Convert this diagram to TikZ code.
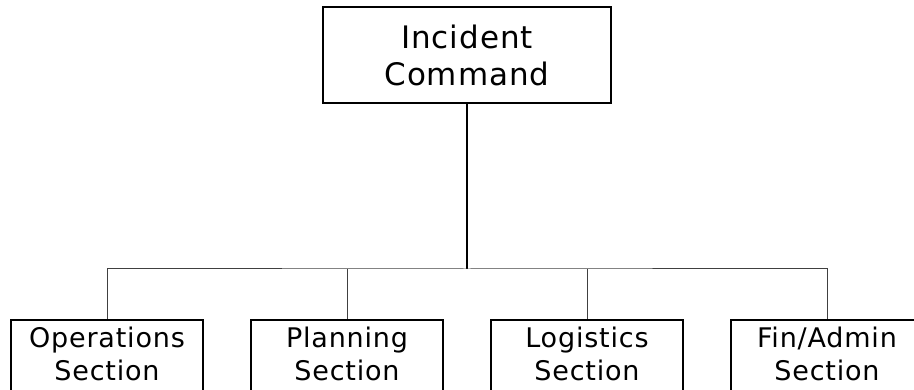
\documentclass[tikz,border=0pt]{standalone}
\usepackage{fontspec}
\setmainfont{DejaVu Sans}[LetterSpace=3]
\usetikzlibrary{positioning}
\tikzstyle{chief} = [rectangle, draw, line width=2pt, minimum width=288pt, minimum height=96pt, align=center, font=\fontsize{31}{37}\selectfont]
\tikzstyle{sect} = [rectangle, draw, line width=2pt, minimum width=192pt, inner ysep=7pt, text depth=50pt, align=center, font=\fontsize{27}{33}\selectfont]
\tikzstyle{trunk} = [line width=2pt]
\tikzstyle{link} = [line width=1pt, black!75]

\begin{document}
\begin{tikzpicture}[x=1pt, y=1pt, node distance = 46pt]
\useasboundingbox (0,0) rectangle (914,390);
\clip (0,0) rectangle (914,390);

\node(IC)[chief] at (467,335) {Incident\\Command};

\node(OPS)[sect, anchor=north] at (107,71) {Operations\\Section};
\node(PLN)[sect, right = of OPS] {Planning\\Section};
\node(LOG)[sect, right = of PLN] {Logistics\\Section};
\node(FIN)[sect, right = of LOG] {Fin/Admin\\Section};

\coordinate(bus) at (467,121);

\draw [trunk] (IC) -- (bus);
\draw [link] (OPS) |- (bus) -| (FIN);
\draw [link] (PLN) -- (PLN |- bus);
\draw [link] (LOG) -- (LOG |- bus);

\end{tikzpicture}
\end{document}
